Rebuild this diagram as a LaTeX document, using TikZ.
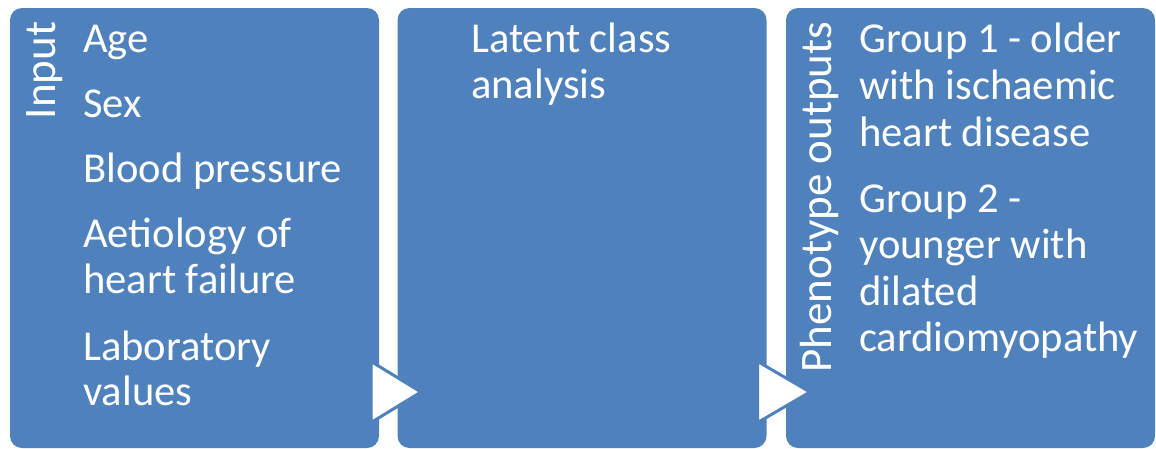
\documentclass[tikz,border=0pt]{standalone}
\usepackage{fontspec}
\setmainfont{Carlito}
\definecolor{stageblue}{HTML}{4F81BD}
\begin{document}
\begin{tikzpicture}[x=1pt,y=-1pt,
  stagebox/.style={fill=stageblue, draw=none, rounded corners=12pt,
    minimum width=369pt, minimum height=440pt, inner sep=0pt},
  item/.style={anchor=base west, inner sep=0pt, text=white,
    font=\fontsize{42.6}{46}\selectfont},
  sidelabel/.style={item, anchor=base east, rotate=90,
    font=\fontsize{45}{48}\selectfont},
  flowtip/.style={fill=white, draw=stageblue, line width=3pt, line join=miter}
]
\useasboundingbox (0,0) rectangle (1156,448);

% three stages
\node[stagebox] (box1) at (194.5,228) {};
\node[stagebox] (box2) at (582,228) {};
\node[stagebox] (box3) at (970.5,228) {};

% flow arrows between the stages
\draw[flowtip] (box1.east |- 0,361.5) ++(-8,0) -- ++(0,61) -- (421,392) -- cycle;
\draw[flowtip] (box2.east |- 0,361.5) ++(-9,0) -- ++(0,61) -- (810,392) -- cycle;

% side labels
\node[sidelabel] (lin) at (55.5,21.5) {Input};
\node[sidelabel] (lout) at (831.5,21.5) {Phenotype outputs};

% input items
\node[item] (i1) at (83,52) {Age};
\node[item] (i2) at (83,117) {Sex};
\node[item] (i3) at (83,182.5) {Blood pressure};
\node[item] (i4a) at (83,247) {Aetiology of};
\node[item] (i4b) at (83,293) {heart failure};
\node[item] (i5a) at (83,360) {Laboratory};
\node[item] (i5b) at (83,405) {values};

% method
\node[item] (m1a) at (471,52) {Latent class};
\node[item] (m1b) at (471,98) {analysis};

% outputs
\node[item] (o1a) at (859,52) {Group 1 - older};
\node[item] (o1b) at (859,99) {with ischaemic};
\node[item] (o1c) at (859,146) {heart disease};
\node[item] (o2a) at (859,212) {Group 2 -};
\node[item] (o2b) at (859,258) {younger with};
\node[item] (o2c) at (859,305) {dilated};
\node[item] (o2d) at (859,351) {cardiomyopathy};
\end{tikzpicture}
\end{document}
